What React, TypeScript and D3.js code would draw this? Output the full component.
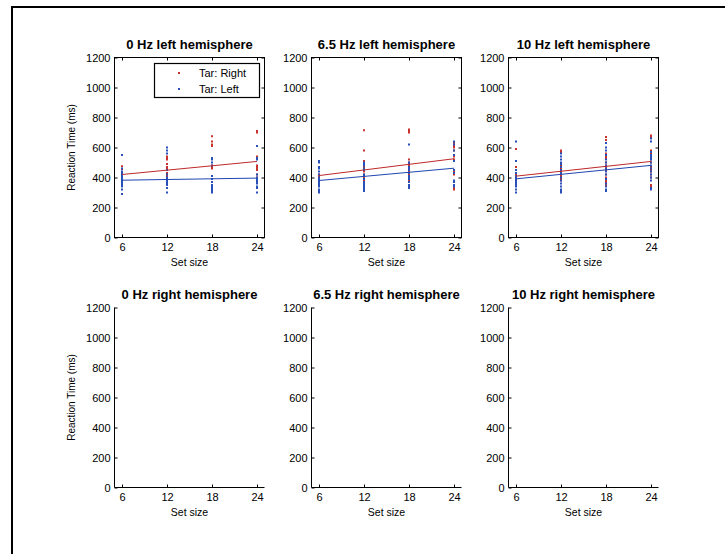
import React, { useEffect, useRef } from 'react';
import * as d3 from 'd3';

const setSizes = [6, 12, 18, 24];
const rtTicks = [0, 200, 400, 600, 800, 1000, 1200];
const leftTitles = ['0 Hz left hemisphere', '6.5 Hz left hemisphere', '10 Hz left hemisphere'];
const rightTitles = ['0 Hz right hemisphere', '6.5 Hz right hemisphere', '10 Hz right hemisphere'];
const legendLabels = ['Tar: Right', 'Tar: Left'];

// reaction times (ms) for set size 6, 12, 18, 24
const hz0TarRight = [
  [475, 455, 435, 420, 405, 395, 385, 370],
  [540, 530, 520, 490, 470, 460, 450, 430, 410, 400],
  [675, 640, 620, 610, 530, 480, 470, 460],
  [710, 700, 540, 480, 470, 460, 450, 420, 400],
];
const hz0TarLeft = [
  [550, 460, 440, 430, 420, 410, 400, 390, 380, 370, 360, 350, 340, 320, 290],
  [600, 580, 560, 450, 420, 400, 390, 380, 370, 360, 350, 330, 300],
  [530, 520, 500, 480, 410, 390, 370, 350, 340, 330, 320, 310, 300],
  [610, 530, 520, 420, 400, 390, 380, 370, 360, 340, 330, 300],
];
const hz65TarRight = [
  [420, 410, 400, 390, 380],
  [715, 580, 510, 500, 490, 470, 460, 440, 420, 400, 380, 350, 340],
  [720, 710, 700, 520, 500, 480, 470, 460, 440, 420, 400, 380, 350],
  [630, 610, 600, 580, 540, 520, 440, 430, 420, 350, 330, 320],
];
const hz65TarLeft = [
  [510, 500, 470, 460, 440, 420, 400, 390, 380, 370, 360, 350, 340, 320, 310, 300],
  [500, 490, 480, 460, 450, 420, 410, 390, 370, 360, 350, 340, 330, 320, 310],
  [620, 500, 490, 470, 460, 450, 430, 410, 400, 390, 370, 350, 340, 330],
  [640, 620, 580, 550, 510, 450, 430, 380, 370, 350, 340],
];
const hz10TarRight = [
  [590, 470, 450, 430, 420, 400, 390],
  [580, 570, 480, 460, 440, 420, 410, 390, 380],
  [670, 650, 560, 540, 530, 500, 480, 470, 450, 420, 400, 380, 370, 350],
  [680, 670, 580, 570, 560, 520, 500, 470, 450, 440, 420, 400, 350, 340],
];
const hz10TarLeft = [
  [640, 510, 450, 430, 410, 400, 390, 380, 370, 360, 350, 340, 320, 300],
  [560, 540, 520, 500, 490, 470, 450, 430, 400, 380, 360, 340, 320, 310, 300],
  [630, 600, 580, 550, 520, 500, 480, 460, 440, 420, 390, 360, 340, 320, 310],
  [660, 640, 570, 550, 540, 530, 520, 500, 480, 460, 440, 420, 400, 380, 330, 320],
];

// fitted lines: RT at set size 6 and 24
const fitTarRight = [[420, 507], [413, 525], [409, 507]];
const fitTarLeft = [[382, 396], [380, 462], [391, 481]];

const tarRightData = [hz0TarRight, hz65TarRight, hz10TarRight];
const tarLeftData = [hz0TarLeft, hz65TarLeft, hz10TarLeft];

const RED = 'rgb(200,50,45)';
const BLUE = 'rgb(40,80,185)';
const FONT = '"Liberation Sans", Arial, Helvetica, sans-serif';

const App = () => {
  const svgRef = useRef<SVGSVGElement>(null);

  useEffect(() => {
    const width = 725;
    const height = 554;
    const svg = d3.select(svgRef.current)
      .attr('width', width)
      .attr('height', height);
    svg.selectAll('*').remove();

    svg.append('rect').attr('width', width).attr('height', height).attr('fill', '#fff');

    // figure frame (cropped)
    svg.append('path')
      .attr('d', `M12,${height} V7 H${width}`)
      .attr('fill', 'none')
      .attr('stroke', '#000')
      .attr('stroke-width', 2);

    const panelLefts = [114.5, 311.5, 508.5];
    const panelW = 150;
    const rows = [
      { top: 57.5, bottom: 237.5, titles: leftTitles, filled: true },
      { top: 307.5, bottom: 487.5, titles: rightTitles, filled: false },
    ];

    rows.forEach(row => {
      panelLefts.forEach((left, i) => {
        const x = d3.scaleLinear().domain([5, 25]).range([left, left + panelW]);
        const y = d3.scaleLinear().domain([0, 1200]).range([row.bottom, row.top]);
        const g = svg.append('g');

        const styleAxis = (sel: any) => {
          sel.select('.domain').remove();
          sel.selectAll('line').attr('stroke', '#000');
          sel.selectAll('text')
            .attr('fill', '#000')
            .style('font-family', FONT)
            .style('font-size', '11px');
        };

        g.append('g')
          .attr('transform', `translate(0,${row.bottom})`)
          .call(d3.axisBottom(x).tickValues(setSizes).tickSizeInner(-3).tickSizeOuter(0).tickPadding(6).tickFormat(d3.format('d')))
          .call(styleAxis);
        g.append('g')
          .attr('transform', `translate(${left},0)`)
          .call(d3.axisLeft(y).tickValues(rtTicks).tickSizeInner(-3).tickSizeOuter(0).tickPadding(4).tickFormat(d3.format('d')))
          .call(styleAxis);

        if (row.filled) {
          g.append('g')
            .attr('transform', `translate(0,${row.top})`)
            .call(d3.axisTop(x).tickValues(setSizes).tickSizeInner(-3).tickSizeOuter(0).tickFormat(() => ''))
            .call(styleAxis);
          g.append('g')
            .attr('transform', `translate(${left + panelW},0)`)
            .call(d3.axisRight(y).tickValues(rtTicks).tickSizeInner(-3).tickSizeOuter(0).tickFormat(() => ''))
            .call(styleAxis);

          const red = tarRightData[i];
          const blue = tarLeftData[i];
          const dots = (data: number[][], color: string) => {
            data.forEach((vals, k) => {
              g.selectAll(null)
                .data(vals)
                .enter()
                .append('rect')
                .attr('x', x(setSizes[k]) - 1)
                .attr('y', v => y(v) - 1)
                .attr('width', 2)
                .attr('height', 2)
                .attr('fill', color);
            });
          };
          dots(red, RED);
          dots(blue, BLUE);

          const line = d3.line<[number, number]>()
            .x(d => x(d[0]))
            .y(d => y(d[1]));
          g.append('path')
            .attr('d', line([[6, fitTarRight[i][0]], [24, fitTarRight[i][1]]]))
            .attr('stroke', 'rgb(190,40,40)')
            .attr('stroke-width', 1)
            .attr('fill', 'none');
          g.append('path')
            .attr('d', line([[6, fitTarLeft[i][0]], [24, fitTarLeft[i][1]]]))
            .attr('stroke', 'rgb(30,70,175)')
            .attr('stroke-width', 1)
            .attr('fill', 'none');

          g.append('rect')
            .attr('x', left)
            .attr('y', row.top)
            .attr('width', panelW)
            .attr('height', row.bottom - row.top)
            .attr('fill', 'none')
            .attr('stroke', '#000')
            .attr('stroke-width', 1);
        } else {
          g.append('path')
            .attr('d', `M${left},${row.top} V${row.bottom} H${left + panelW}`)
            .attr('fill', 'none')
            .attr('stroke', '#000')
            .attr('stroke-width', 1);
        }

        g.append('text')
          .attr('x', left + panelW / 2)
          .attr('y', row.top - 9)
          .attr('text-anchor', 'middle')
          .style('font-family', FONT)
          .style('font-size', '13px')
          .style('font-weight', 'bold')
          .text(row.titles[i]);

        g.append('text')
          .attr('x', left + panelW / 2)
          .attr('y', row.bottom + 28)
          .attr('text-anchor', 'middle')
          .style('font-family', FONT)
          .style('font-size', '10.5px')
          .text('Set size');

        if (i === 0) {
          g.append('text')
            .attr('transform', `translate(74.5,${(row.top + row.bottom) / 2}) rotate(-90)`)
            .attr('text-anchor', 'middle')
            .style('font-family', FONT)
            .style('font-size', '10px')
            .text('Reaction Time (ms)');
        }

        if (row.filled && i === 0) {
          const lg = g.append('g');
          lg.append('rect')
            .attr('x', 154.5)
            .attr('y', 63.5)
            .attr('width', 105)
            .attr('height', 34)
            .attr('fill', '#fff')
            .attr('stroke', '#000')
            .attr('stroke-width', 1.2);
          legendLabels.forEach((label, k) => {
            const cy = 73 + k * 16;
            lg.append('rect')
              .attr('x', 178)
              .attr('y', cy - 1)
              .attr('width', 2)
              .attr('height', 2)
              .attr('fill', k === 0 ? RED : BLUE);
            lg.append('text')
              .attr('x', 199)
              .attr('y', cy + 4)
              .style('font-family', FONT)
              .style('font-size', '11px')
              .text(label);
          });
        }
      });
    });
  }, []);

  return (
    <div style={{ position: 'absolute', left: 0, top: 0 }}>
      <svg ref={svgRef} style={{ display: 'block' }}></svg>
    </div>
  );
};

export default App;
